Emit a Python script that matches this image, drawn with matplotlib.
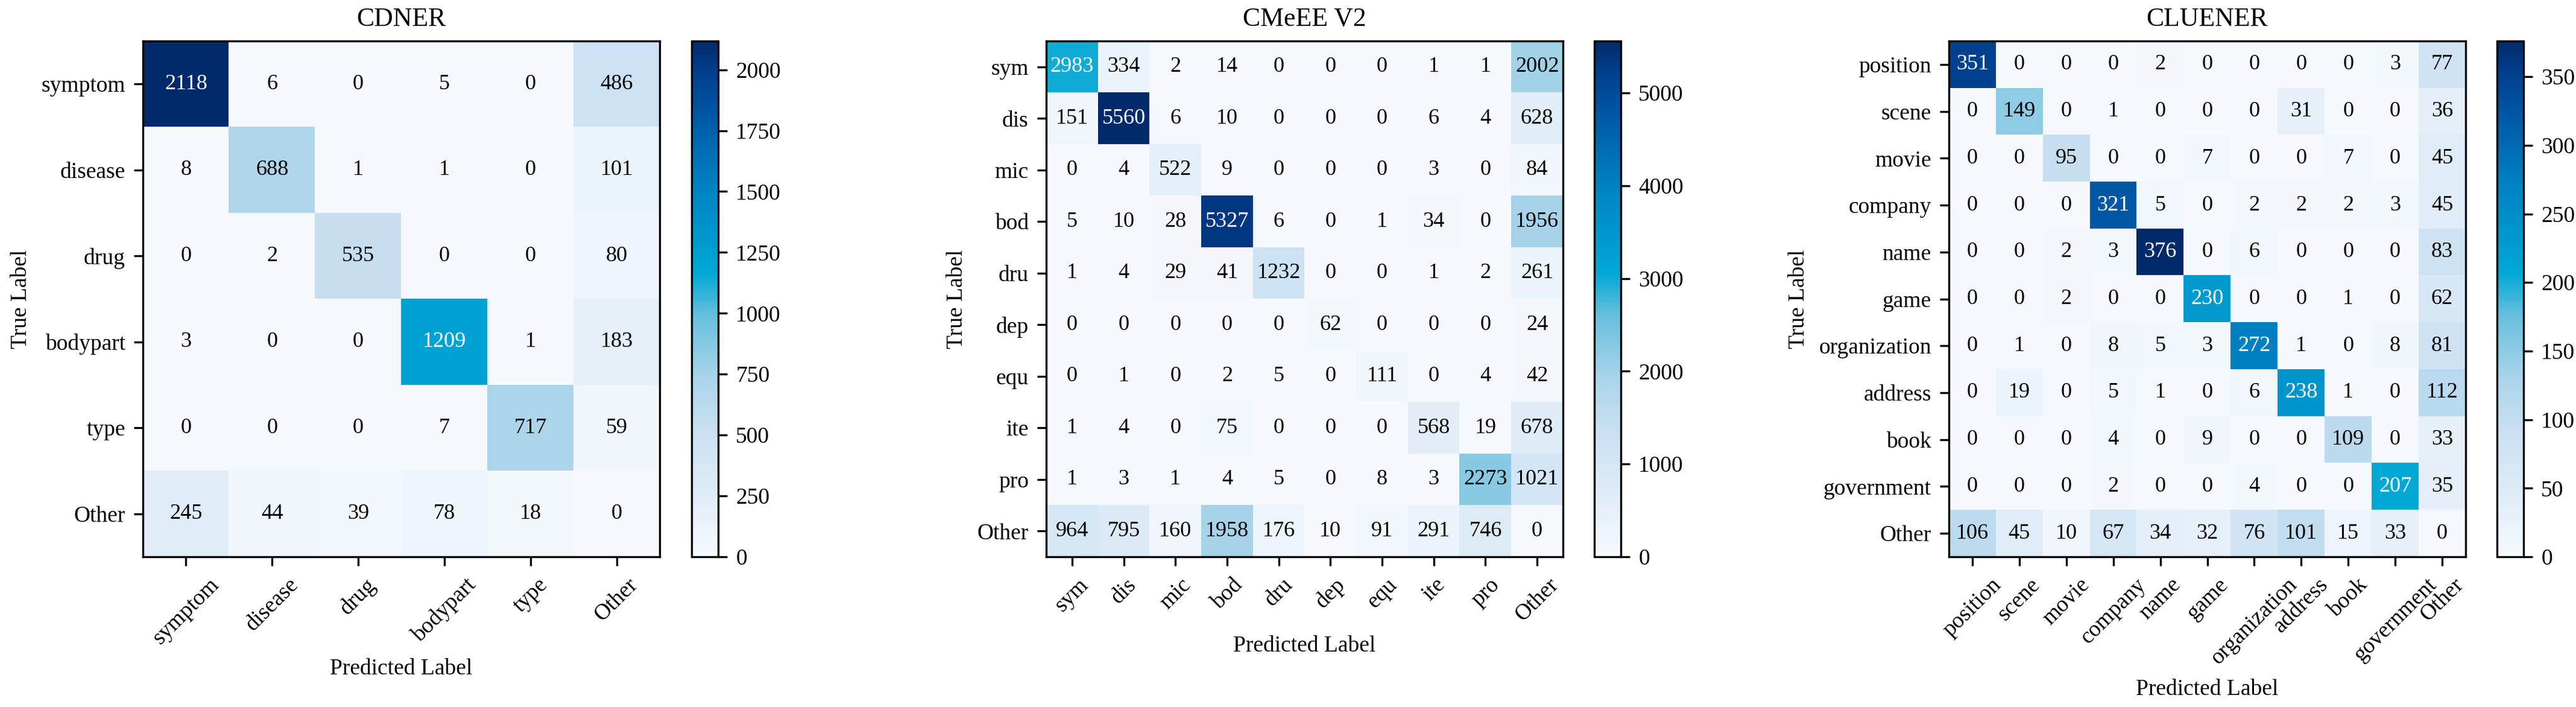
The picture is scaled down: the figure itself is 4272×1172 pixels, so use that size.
import numpy as np
import matplotlib
matplotlib.use('Agg')
import matplotlib.pyplot as plt
from matplotlib.colors import LinearSegmentedColormap

plt.rcParams['font.family'] = ['Liberation Serif', 'DejaVu Serif']
plt.rcParams['font.size'] = 9

# ---- data ----
cdner_labels = ['symptom', 'disease', 'drug', 'bodypart', 'type', 'Other']
cdner_cm = [
    [2118, 6, 0, 5, 0, 486],
    [8, 688, 1, 1, 0, 101],
    [0, 2, 535, 0, 0, 80],
    [3, 0, 0, 1209, 1, 183],
    [0, 0, 0, 7, 717, 59],
    [245, 44, 39, 78, 18, 0],
]

cmeee_labels = ['sym', 'dis', 'mic', 'bod', 'dru', 'dep', 'equ', 'ite', 'pro', 'Other']
cmeee_cm = [
    [2983, 334, 2, 14, 0, 0, 0, 1, 1, 2002],
    [151, 5560, 6, 10, 0, 0, 0, 6, 4, 628],
    [0, 4, 522, 9, 0, 0, 0, 3, 0, 84],
    [5, 10, 28, 5327, 6, 0, 1, 34, 0, 1956],
    [1, 4, 29, 41, 1232, 0, 0, 1, 2, 261],
    [0, 0, 0, 0, 0, 62, 0, 0, 0, 24],
    [0, 1, 0, 2, 5, 0, 111, 0, 4, 42],
    [1, 4, 0, 75, 0, 0, 0, 568, 19, 678],
    [1, 3, 1, 4, 5, 0, 8, 3, 2273, 1021],
    [964, 795, 160, 1958, 176, 10, 91, 291, 746, 0],
]

cluener_labels = ['position', 'scene', 'movie', 'company', 'name', 'game',
                  'organization', 'address', 'book', 'government', 'Other']
cluener_cm = [
    [351, 0, 0, 0, 2, 0, 0, 0, 0, 3, 77],
    [0, 149, 0, 1, 0, 0, 0, 31, 0, 0, 36],
    [0, 0, 95, 0, 0, 7, 0, 0, 7, 0, 45],
    [0, 0, 0, 321, 5, 0, 2, 2, 2, 3, 45],
    [0, 0, 2, 3, 376, 0, 6, 0, 0, 0, 83],
    [0, 0, 2, 0, 0, 230, 0, 0, 1, 0, 62],
    [0, 1, 0, 8, 5, 3, 272, 1, 0, 8, 81],
    [0, 19, 0, 5, 1, 0, 6, 238, 1, 0, 112],
    [0, 0, 0, 4, 0, 9, 0, 0, 109, 0, 33],
    [0, 0, 0, 2, 0, 0, 4, 0, 0, 207, 35],
    [106, 45, 10, 67, 34, 32, 76, 101, 15, 33, 0],
]

titles = ['CDNER', 'CMeEE V2', 'CLUENER']

# blue -> cyan -> navy map like the one in the figure
cmap = LinearSegmentedColormap.from_list('cm_blues', [
    (0.0, '#f5f9fe'), (0.125, '#dfecf8'), (0.25, '#c8dff2'),
    (0.35, '#a8d4ea'), (0.47, '#66bedd'), (0.55, '#00a8d6'),
    (0.71, '#0084c4'), (0.83, '#0060ac'), (0.94, '#003f8e'),
    (1.0, '#012a6b')])

W, H = 4272, 1172
fig = plt.figure(figsize=(W / 300, H / 300), dpi=300)

# pixel positions of heatmap and colorbar left edges
ax_left = [237, 1735, 3232]
cb_left = [1147, 2644, 4141]
top, bottom = 68, 923

panels = [(cdner_cm, cdner_labels), (cmeee_cm, cmeee_labels), (cluener_cm, cluener_labels)]

for i, (cm, labels) in enumerate(panels):
    cm = np.array(cm)
    ax = fig.add_axes([ax_left[i] / W, (H - bottom) / H, 857 / W, (bottom - top) / H])
    cax = fig.add_axes([cb_left[i] / W, (H - bottom) / H, 44 / W, (bottom - top) / H])
    im = ax.imshow(cm, cmap=cmap, aspect='auto', interpolation='nearest')
    fig.colorbar(im, cax=cax)
    n = len(labels)
    ax.set_xticks(range(n))
    ax.set_yticks(range(n))
    ax.set_xticklabels(labels, rotation=45)
    ax.set_yticklabels(labels)
    ax.set_xlabel('Predicted Label')
    ax.set_ylabel('True Label')
    ax.set_title(titles[i], fontsize=10.5)
    thresh = cm.max() / 2.0
    for r in range(n):
        for c in range(n):
            ax.text(c, r, str(cm[r, c]), ha='center', va='center', fontsize=8.7,
                    color='white' if cm[r, c] > thresh else 'black')

fig.savefig('out.png', dpi=300)
